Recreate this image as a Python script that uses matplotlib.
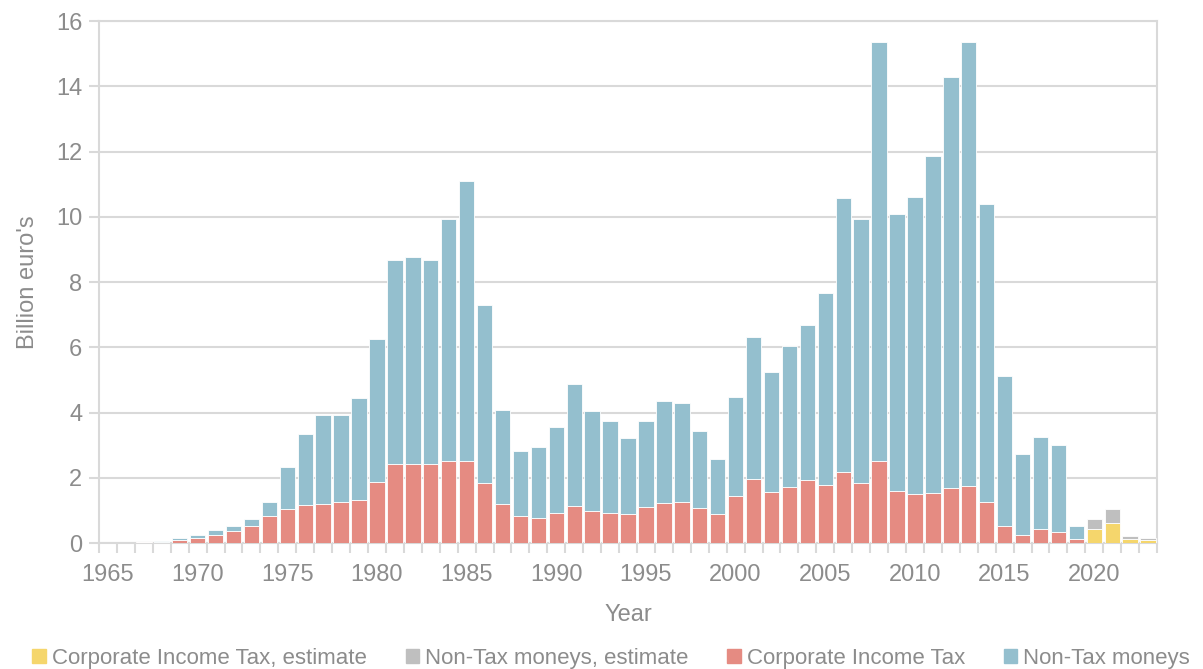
import numpy as np
import matplotlib
matplotlib.use("Agg")
import matplotlib.pyplot as plt
from matplotlib.patches import Patch

plt.rcParams['font.family'] = ['Liberation Sans', 'DejaVu Sans']

# ── data (billion euro's) ─────────────────────────────────────────────
years = list(range(1965, 2024))

cit = [0.00, 0.00, 0.02, 0.04, 0.10, 0.15, 0.25, 0.38, 0.51, 0.84,
       1.05, 1.16, 1.20, 1.25, 1.33, 1.88, 2.42, 2.42, 2.42, 2.51,
       2.51, 1.83, 1.21, 0.84, 0.76, 0.93, 1.13, 0.99, 0.92, 0.89,
       1.09, 1.23, 1.27, 1.07, 0.89, 1.45, 1.95, 1.55, 1.73, 1.92,
       1.79, 2.17, 1.85, 2.51, 1.59, 1.49, 1.52, 1.70, 1.76, 1.27,
       0.52, 0.24, 0.44, 0.33, 0.13, 0.00, 0.00, 0.00, 0.00]

non_tax = [0.00, 0.00, 0.00, 0.03, 0.06, 0.10, 0.14, 0.14, 0.24, 0.41,
           1.29, 2.17, 2.72, 2.67, 3.10, 4.37, 6.24, 6.36, 6.24, 7.42,
           8.60, 5.46, 2.86, 1.99, 2.17, 2.62, 3.74, 3.05, 2.83, 2.34,
           2.65, 3.11, 3.01, 2.36, 1.69, 3.02, 4.38, 3.68, 4.31, 4.75,
           5.86, 8.39, 8.08, 12.85, 8.50, 9.13, 10.35, 12.58, 13.61, 9.11,
           4.61, 2.48, 2.80, 2.66, 0.40, 0.00, 0.00, 0.00, 0.00]

# schattingen 2020-2023
est_years = [2020, 2021, 2022, 2023]
cit_est = [0.43, 0.62, 0.13, 0.10]
non_tax_est = [0.31, 0.42, 0.08, 0.04]

C_YEL = "#F5D66C"
C_GRY = "#BFBFBF"
C_RED = "#E58B82"
C_BLU = "#94BFCE"
GRID = "#D9D9D9"
TXT = "#8C8C8C"
FS = 17

x = np.arange(len(years))
xe = np.array([years.index(y) for y in est_years])
cit = np.array(cit)
non_tax = np.array(non_tax)
cit_est = np.array(cit_est)
non_tax_est = np.array(non_tax_est)

fig = plt.figure(figsize=(12.03, 6.69), dpi=100)
ax = fig.add_axes([0.0823, 0.1883, 0.8795, 0.7803])

W = 0.86
kw = dict(width=W, edgecolor="white", linewidth=0.6, zorder=3)
ax.bar(x, cit, color=C_RED, **kw)
ax.bar(x, non_tax, bottom=cit, color=C_BLU, **kw)
ax.bar(xe, cit_est, color=C_YEL, **kw)
ax.bar(xe, non_tax_est, bottom=cit_est, color=C_GRY, **kw)

ax.set_xlim(-0.5, len(years) - 0.5)
ax.set_ylim(0, 16)
ax.set_yticks(np.arange(0, 17, 2))
ax.yaxis.grid(True, color=GRID, linewidth=1.5, zorder=0)
ax.set_axisbelow(True)

# categorie-as: streepjes tussen de staven, label om de 5 jaar
ax.set_xticks(np.arange(-0.5, len(years), 1), minor=True)
lab_idx = [i for i, y in enumerate(years) if y % 5 == 0]
ax.set_xticks(lab_idx)
ax.set_xticklabels([str(years[i]) for i in lab_idx])
ax.tick_params(axis="x", which="major", length=0, pad=15, labelsize=FS, labelcolor=TXT)
ax.tick_params(axis="x", which="minor", length=7, width=1.5, color=GRID)
ax.tick_params(axis="y", length=7, width=1.5, color=GRID, pad=5, labelsize=FS, labelcolor=TXT)

for s in ax.spines.values():
    s.set_color(GRID)
    s.set_linewidth(1.5)

ax.set_xlabel("Year", fontsize=FS, color=TXT, labelpad=13)
ax.set_ylabel("Billion euro's", fontsize=FS, color=TXT, labelpad=12)

handles = [Patch(color=C_YEL), Patch(color=C_GRY), Patch(color=C_RED), Patch(color=C_BLU)]
labels = ["Corporate Income Tax, estimate", "Non-Tax moneys, estimate",
          "Corporate Income Tax", "Non-Tax moneys"]
leg = fig.legend(handles, labels, loc="lower center", bbox_to_anchor=(0.508, -0.03),
                 ncol=4, frameon=False, fontsize=16, handlelength=0.62,
                 handleheight=0.62, handletextpad=0.25, columnspacing=1.75)
for t in leg.get_texts():
    t.set_color(TXT)

fig.savefig("out.png", dpi=100)
